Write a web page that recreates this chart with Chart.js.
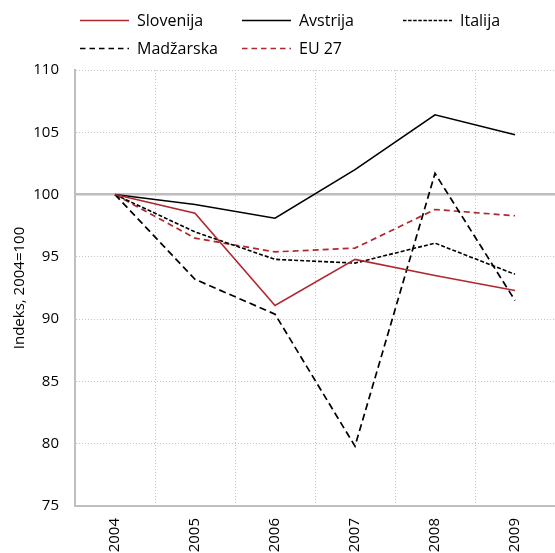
<!DOCTYPE html>
<html>
<head>
<meta charset="utf-8">
<script src="https://cdn.jsdelivr.net/npm/chart.js@4"></script>
<style>
  html, body { margin: 0; padding: 0; background: #fff; }
  #wrap { position: relative; width: 555px; height: 553px; }
  #c { position: absolute; left: 0; top: 0; }
  .lg { position: absolute; font-family: 'Open Sans', sans-serif; font-size: 16px; color: #000; white-space: nowrap; line-height: 20px; }
  .lg svg { position: absolute; left: 0; top: 9px; }
  .lg span { position: absolute; left: 57px; top: 0; }
</style>
</head>
<body>
<div id="wrap">
  <canvas id="c" width="555" height="553"></canvas>
</div>
<script>
const years = ['2004', '2005', '2006', '2007', '2008', '2009'];
const seriesNames = ['Slovenija', 'Avstrija', 'Italija', 'Madžarska', 'EU 27'];
const slovenija = [100, 98.5, 91.1, 94.8, 93.5, 92.3];
const avstrija  = [100, 99.2, 98.1, 102.0, 106.4, 104.8];
const italija   = [100, 97.0, 94.8, 94.5, 96.1, 93.6];
const madzarska = [100, 93.2, 90.4, 79.8, 101.7, 91.5];
const eu27      = [100, 96.5, 95.4, 95.7, 98.8, 98.3];
const yTitle = 'Indeks, 2004=100';

const RED = '#b0282d';
const styles = [
  { color: RED, dash: [], width: 1.6, lgDash: '' },
  { color: '#000', dash: [], width: 1.6, lgDash: '' },
  { color: '#000', dash: [4, 2], width: 1.6, lgDash: '3.5 1.6' },
  { color: '#000', dash: [7, 4], width: 1.7, lgDash: '5.5 4' },
  { color: RED, dash: [6, 4], width: 1.7, lgDash: '5.5 4' }
];
const values = [slovenija, avstrija, italija, madzarska, eu27];

// HTML legend (grid layout)
const legendPos = [[80, 10], [242, 10], [403, 10], [80, 38], [242, 38]];
const wrap = document.getElementById('wrap');
seriesNames.forEach((name, i) => {
  const d = document.createElement('div');
  d.className = 'lg';
  d.style.left = legendPos[i][0] + 'px';
  d.style.top = legendPos[i][1] + 'px';
  d.style.width = '150px';
  d.style.height = '20px';
  const s = styles[i];
  const dashAttr = s.lgDash ? ` stroke-dasharray="${s.lgDash}"` : '';
  d.innerHTML = `<svg width="50" height="3"><line x1="0" y1="1.5" x2="49" y2="1.5" stroke="${s.color}" stroke-width="1.6"${dashAttr}/></svg><span>${name}</span>`;
  wrap.appendChild(d);
});

const FONT = { family: "'Open Sans', sans-serif", size: 15 };

new Chart(document.getElementById('c'), {
  type: 'line',
  data: {
    labels: years,
    datasets: seriesNames.map((n, i) => ({
      label: n,
      data: values[i],
      borderColor: styles[i].color,
      borderDash: styles[i].dash,
      borderWidth: styles[i].width,
      pointRadius: 0,
      tension: 0,
      fill: false
    }))
  },
  options: {
    responsive: false,
    animation: false,
    layout: { padding: { top: 70, right: 0, bottom: 0, left: 0 } },
    plugins: { legend: { display: false }, tooltip: { enabled: false } },
    scales: {
      x: {
        offset: true,
        grid: { offset: true, color: '#c4c4c4', lineWidth: 1, drawTicks: false },
        border: { color: '#bfbfbf', width: 2, dash: [1, 2] },
        ticks: { color: '#000', font: FONT, minRotation: 90, maxRotation: 90, padding: 12 },
        afterFit: s => { s.height = 47; }
      },
      y: {
        min: 75, max: 110,
        ticks: { stepSize: 5, color: '#000', font: FONT, padding: 16 },
        grid: {
          drawTicks: false,
          color: c => (c.tick && c.tick.value === 100) ? '#bdbdbd' : '#c4c4c4',
          lineWidth: c => (c.tick && c.tick.value === 100) ? 2.5 : 1
        },
        border: {
          color: '#bfbfbf', width: 2,
          dash: c => (c.tick && c.tick.value === 100) ? [] : [1, 2]
        },
        title: { display: true, text: yTitle, color: '#000', font: FONT, padding: { top: 11, bottom: 0 } },
        afterFit: s => { s.width = 75; }
      }
    }
  }
});
</script>
</body>
</html>
